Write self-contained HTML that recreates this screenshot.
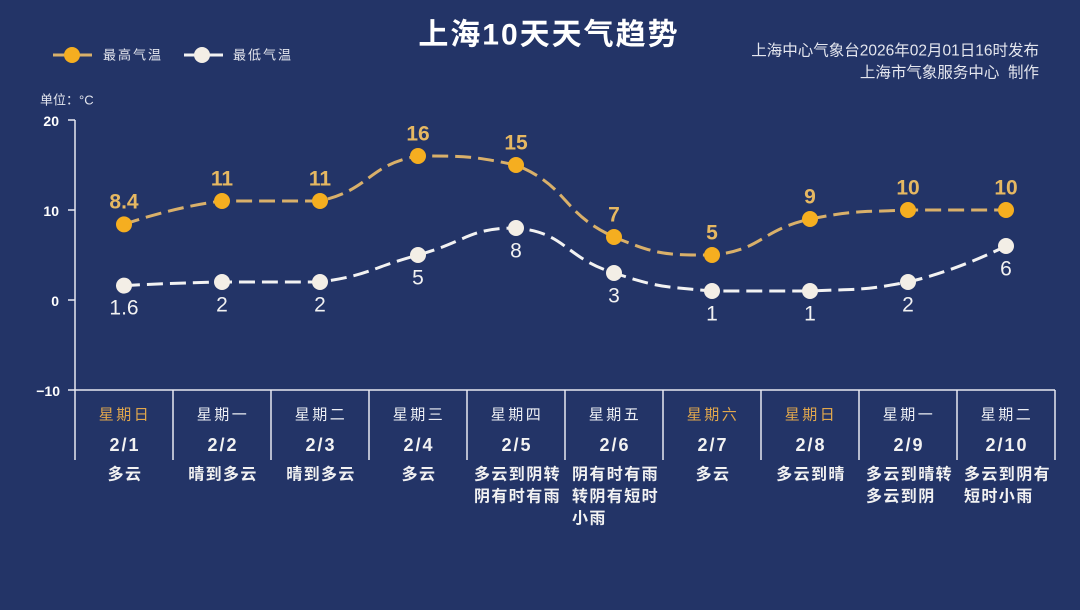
<!DOCTYPE html>
<html>
<head>
<meta charset="utf-8">
<style>
html,body{margin:0;padding:0;background:#233467;}
svg{display:block;}
text{font-family:"Liberation Sans","Noto Sans CJK SC",sans-serif;}
</style>
</head>
<body>
<svg width="1080" height="610" viewBox="0 0 1080 610" xmlns="http://www.w3.org/2000/svg">
<rect x="0" y="0" width="1080" height="610" fill="#233467"/>

<!-- Title -->
<text x="549" y="35" text-anchor="middle" dominant-baseline="central" font-size="30" font-weight="bold" fill="#ffffff" letter-spacing="2">上海10天天气趋势</text>

<!-- Legend -->
<line x1="53" y1="55" x2="92" y2="55" stroke="#d9b06a" stroke-width="3"/>
<circle cx="72" cy="55" r="8" fill="#f5ae20"/>
<text x="103" y="55" dominant-baseline="central" font-size="13" fill="#e4e6ee" letter-spacing="2">最高气温</text>
<line x1="184" y1="55" x2="223" y2="55" stroke="#f2f2f2" stroke-width="3"/>
<circle cx="202" cy="55" r="8" fill="#f3eee6"/>
<text x="233" y="55" dominant-baseline="central" font-size="13" fill="#e4e6ee" letter-spacing="2">最低气温</text>

<!-- Right header -->
<text x="1039" y="51" text-anchor="end" dominant-baseline="central" font-size="15.5" fill="#e4e6ee">上海中心气象台2026年02月01日16时发布</text>
<text x="1039" y="73" text-anchor="end" dominant-baseline="central" font-size="15.5" fill="#e4e6ee" xml:space="preserve">上海市气象服务中心  制作</text>

<!-- Unit -->
<text x="40" y="100" dominant-baseline="central" font-size="13" fill="#e4e6ee">单位：°C</text>

<!-- Y axis -->
<g stroke="#e8e8f0" stroke-width="1.5" fill="none">
<line x1="75" y1="120" x2="75" y2="460"/>
<line x1="68" y1="120" x2="75" y2="120"/>
<line x1="68" y1="210" x2="75" y2="210"/>
<line x1="68" y1="300" x2="75" y2="300"/>
<line x1="68" y1="390" x2="1055" y2="390"/>
<line x1="173" y1="390" x2="173" y2="460"/>
<line x1="271" y1="390" x2="271" y2="460"/>
<line x1="369" y1="390" x2="369" y2="460"/>
<line x1="467" y1="390" x2="467" y2="460"/>
<line x1="565" y1="390" x2="565" y2="460"/>
<line x1="663" y1="390" x2="663" y2="460"/>
<line x1="761" y1="390" x2="761" y2="460"/>
<line x1="859" y1="390" x2="859" y2="460"/>
<line x1="957" y1="390" x2="957" y2="460"/>
<line x1="1055" y1="390" x2="1055" y2="460"/>
</g>
<g font-size="14" font-weight="bold" fill="#ffffff" text-anchor="end" dominant-baseline="central">
<text x="59" y="121">20</text>
<text x="59" y="211">10</text>
<text x="59" y="301">0</text>
<text x="60" y="391">−10</text>
</g>

<!-- High line -->
<path d="M124,224.4 C124,224.4 172.3,206.9 222,201 C270.3,201 273.4,201 320,201 C371.4,189.2 366.7,165.4 418,156 C464.7,156 472.2,156 516,165 C570.2,187.4 560.1,212.25 614,237 C658.1,255 664.2,255 712,255 C762.2,250.4 759.5,230.6 810,219 C857.5,210 859,212.25 908,210 C957,210 1006,210 1006,210" fill="none" stroke="#d9b06a" stroke-width="3" stroke-dasharray="16 7"/>
<!-- Low line -->
<path d="M124,285.6 C124,285.6 173,282.9 222,282 C271,282 271.9,282 320,282 C369.9,275.1 369,268.5 418,255 C467,241.5 468.5,228 516,228 C566.5,232.6 563,256.6 614,273 C661,288.1 662.6,286.5 712,291 C760.6,291 761,291 810,291 C859,288.75 860.5,291 908,282 C958.5,270.4 1006,246 1006,246" fill="none" stroke="#f2f2f2" stroke-width="3" stroke-dasharray="16 7"/>

<!-- High markers -->
<g fill="#f5ae20">
<circle cx="124" cy="224.4" r="8"/>
<circle cx="222" cy="201" r="8"/>
<circle cx="320" cy="201" r="8"/>
<circle cx="418" cy="156" r="8"/>
<circle cx="516" cy="165" r="8"/>
<circle cx="614" cy="237" r="8"/>
<circle cx="712" cy="255" r="8"/>
<circle cx="810" cy="219" r="8"/>
<circle cx="908" cy="210" r="8"/>
<circle cx="1006" cy="210" r="8"/>
</g>
<!-- Low markers -->
<g fill="#f3eee6">
<circle cx="124" cy="285.6" r="8"/>
<circle cx="222" cy="282" r="8"/>
<circle cx="320" cy="282" r="8"/>
<circle cx="418" cy="255" r="8"/>
<circle cx="516" cy="228" r="8"/>
<circle cx="614" cy="273" r="8"/>
<circle cx="712" cy="291" r="8"/>
<circle cx="810" cy="291" r="8"/>
<circle cx="908" cy="282" r="8"/>
<circle cx="1006" cy="246" r="8"/>
</g>

<!-- High labels -->
<g font-size="21" font-weight="bold" fill="#e6b862" text-anchor="middle" dominant-baseline="central">
<text x="124" y="202">8.4</text>
<text x="222" y="179">11</text>
<text x="320" y="179">11</text>
<text x="418" y="134">16</text>
<text x="516" y="143">15</text>
<text x="614" y="215">7</text>
<text x="712" y="233">5</text>
<text x="810" y="197">9</text>
<text x="908" y="188">10</text>
<text x="1006" y="188">10</text>
</g>
<!-- Low labels -->
<g font-size="21" fill="#f2f2f2" text-anchor="middle" dominant-baseline="central">
<text x="124" y="308">1.6</text>
<text x="222" y="305">2</text>
<text x="320" y="305">2</text>
<text x="418" y="278">5</text>
<text x="516" y="251">8</text>
<text x="614" y="296">3</text>
<text x="712" y="314">1</text>
<text x="810" y="314">1</text>
<text x="908" y="305">2</text>
<text x="1006" y="269">6</text>
</g>

<!-- Weekdays -->
<g font-size="15" text-anchor="middle" dominant-baseline="central" letter-spacing="2.5" fill="#eef0f5">
<text x="125" y="415" fill="#e2a84c">星期日</text>
<text x="223" y="415">星期一</text>
<text x="321" y="415">星期二</text>
<text x="419" y="415">星期三</text>
<text x="517" y="415">星期四</text>
<text x="615" y="415">星期五</text>
<text x="713" y="415" fill="#e2a84c">星期六</text>
<text x="811" y="415" fill="#e2a84c">星期日</text>
<text x="909" y="415">星期一</text>
<text x="1007" y="415">星期二</text>
</g>
<!-- Dates -->
<g font-size="18" font-weight="bold" text-anchor="middle" dominant-baseline="central" letter-spacing="2" fill="#f2f2f2">
<text x="125" y="445">2/1</text>
<text x="223" y="445">2/2</text>
<text x="321" y="445">2/3</text>
<text x="419" y="445">2/4</text>
<text x="517" y="445">2/5</text>
<text x="615" y="445">2/6</text>
<text x="713" y="445">2/7</text>
<text x="811" y="445">2/8</text>
<text x="909" y="445">2/9</text>
<text x="1007" y="445">2/10</text>
</g>

<!-- Weather -->
<g font-size="16" font-weight="bold" dominant-baseline="central" letter-spacing="1.4" fill="#f2f2f2">
<text x="125" y="475" text-anchor="middle">多云</text>
<text x="223" y="475" text-anchor="middle">晴到多云</text>
<text x="321" y="475" text-anchor="middle">晴到多云</text>
<text x="419" y="475" text-anchor="middle">多云</text>
<text x="474" y="475">多云到阴转</text>
<text x="474" y="497">阴有时有雨</text>
<text x="572" y="475">阴有时有雨</text>
<text x="572" y="497">转阴有短时</text>
<text x="572" y="519">小雨</text>
<text x="713" y="475" text-anchor="middle">多云</text>
<text x="811" y="475" text-anchor="middle">多云到晴</text>
<text x="866" y="475">多云到晴转</text>
<text x="866" y="497">多云到阴</text>
<text x="964" y="475">多云到阴有</text>
<text x="964" y="497">短时小雨</text>
</g>
</svg>
</body>
</html>
